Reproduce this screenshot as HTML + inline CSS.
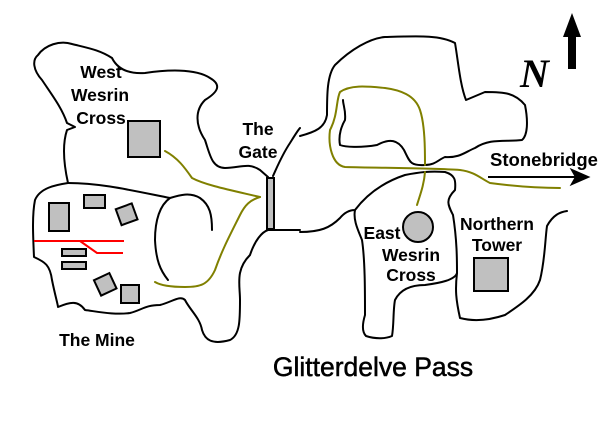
<!DOCTYPE html>
<html><head><meta charset="utf-8"><style>
html,body{margin:0;padding:0;background:#fff;}
svg{display:block}
text{font-family:"Liberation Sans",sans-serif;font-weight:bold;font-size:17.5px;fill:#000}
</style></head><body>
<svg width="602" height="422" viewBox="0 0 602 422">
<g fill="none" stroke="#000" stroke-width="2" stroke-linejoin="round" stroke-linecap="round">
<path d="M68,183 C64,165 62,145 67,130 L75,127 L67,123 C62,108 52,95 42,80 C33,70 32,60 38,55 C45,45 60,40 72,44 C88,48 100,50 112,58 C118,70 130,74 145,73 C165,70 195,68 210,78 C222,85 218,92 205,100 C195,110 195,125 205,140 C210,155 212,168 225,168 C240,168 248,162 260,170 L268,177"/>
<path d="M273,176 C278,165 282,155 290,143 C295,135 298,130 300,128"/>
<path d="M68,183 C55,185 40,188 35,200 C32,215 33,235 34,257 C45,262 50,265 52,280 C55,295 58,305 58,307 C70,302 78,300 85,310 C100,312 115,315 130,313 C142,310 145,305 160,305 C172,302 180,295 185,300 C190,310 200,318 202,330 C205,340 212,345 230,340 C240,335 240,320 240,300 C240,285 235,270 250,255 C255,240 262,232 268,230 L275,230 L300,230"/>
<path d="M68,183 C100,183 130,190 170,198 C180,195 190,192 200,198 C210,205 212,215 212,230"/>
<path d="M170,198 C160,205 155,220 155,240 C156,260 160,270 168,280"/>
<path d="M300,136 C315,132 325,128 327,115 C327,95 327,75 335,65 C350,50 370,38 385,37 C420,36 440,35 455,43 C458,60 460,85 466,100 L485,92 C505,92 515,93 525,105 C528,120 528,135 522,140 C505,142 490,138 475,148 C465,152 460,158 445,157 C438,160 435,165 425,165 C410,166 410,162 404,150 C398,140 390,138 377,145 C360,148 345,147 340,145 C338,135 342,125 345,120 C346,110 343,105 343,100"/>
<path d="M300,232 C320,232 330,228 340,218 C345,212 350,210 355,210 C353,220 358,230 362,240 C365,260 365,290 365,315 C362,325 362,332 366,336 C375,339 385,339 392,336 C394,325 393,310 395,300 C400,290 410,285 425,285 C440,283 455,280 457,273 C457,260 457,240 453,215 C448,205 445,200 455,190 C456,180 455,175 445,172 C430,171 420,172 405,175 C390,180 370,190 355,210"/>
<path d="M457,273 C455,290 456,300 460,318 C475,322 490,320 505,315 C520,305 535,295 540,280 C545,260 545,240 547,226 C553,215 560,212 567,211"/>
</g>
<g fill="none" stroke="#808000" stroke-width="2" stroke-linecap="round">
<path d="M165,151 C178,158 185,168 192,178 C205,185 230,190 260,197"/>
<path d="M260,197 C250,200 245,205 240,215 C230,235 222,250 215,270 C208,285 200,287 185,287 C170,287 160,285 155,282"/>
<path d="M425,165 C425,150 425,125 420,110 C415,95 400,90 385,88 C365,86 350,85 340,92 C336,100 338,115 330,130 C328,145 332,165 345,167 C380,168 430,168 460,170 C475,172 480,178 490,183 C520,187 545,188 560,188"/>
<path d="M425,172 C424,185 420,195 417,205"/>
</g>
<g fill="#c0c0c0" stroke="#000" stroke-width="2">
<rect x="128" y="121" width="32" height="36"/>
<rect x="267" y="178" width="7" height="51"/>
<rect x="49" y="203" width="20" height="28"/>
<rect x="84" y="195" width="21" height="13"/>
<rect x="118" y="206" width="17" height="17" transform="rotate(-20 126 214)"/>
<rect x="62" y="249" width="24" height="7"/>
<rect x="62" y="262" width="24" height="7"/>
<rect x="97" y="276" width="17" height="17" transform="rotate(-25 105 285)"/>
<rect x="121" y="285" width="18" height="18"/>
<circle cx="418" cy="227" r="15"/>
<rect x="474" y="258" width="34" height="33"/>
</g>
<g fill="none" stroke="#f00" stroke-width="2">
<path d="M34,241 L124,241"/>
<path d="M80,241 L97,253 L123,253"/>
</g>
<g stroke="#000" stroke-width="2" fill="#000">
<path d="M488,177 L578,177" fill="none"/>
<path d="M588,177 L572,170 L576,177 L572,184 Z"/>
<rect x="568" y="35" width="8" height="34" stroke="none"/>
<path d="M572,13 L563,37 L581,37 Z" stroke="none"/>
</g>
<text x="101" y="78" text-anchor="middle">West</text>
<text x="100" y="101" text-anchor="middle">Wesrin</text>
<text x="101" y="124" text-anchor="middle">Cross</text>
<text x="258" y="135" text-anchor="middle">The</text>
<text x="258" y="158" text-anchor="middle">Gate</text>
<text x="97" y="346" text-anchor="middle">The Mine</text>
<text x="382" y="239" text-anchor="middle">East</text>
<text x="411" y="261" text-anchor="middle">Wesrin</text>
<text x="411" y="281" text-anchor="middle">Cross</text>
<text x="497" y="230" text-anchor="middle">Northern</text>
<text x="497" y="251" text-anchor="middle">Tower</text>
<text x="544" y="166" text-anchor="middle" style="font-size:18.5px">Stonebridge</text>
<text x="373" y="376" text-anchor="middle" style="font-weight:normal;font-size:26.5px;stroke:#000;stroke-width:0.5">Glitterdelve Pass</text>
<text x="520" y="87" style="font-family:'Liberation Serif',serif;font-style:italic;font-weight:bold;font-size:40px">N</text>
</svg>
</body></html>
